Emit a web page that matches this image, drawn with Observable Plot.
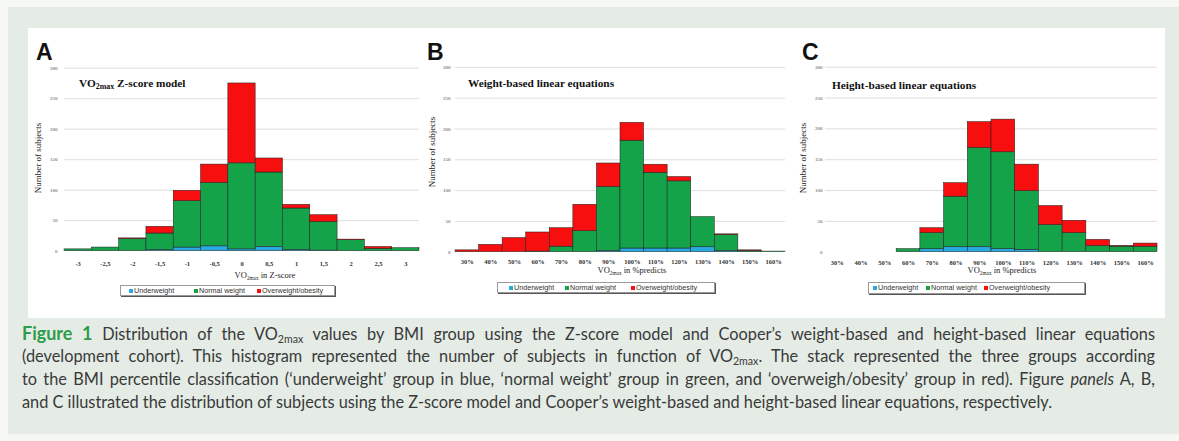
<!DOCTYPE html>
<html><head><meta charset="utf-8">
<script src="https://cdn.jsdelivr.net/npm/d3@7"></script>
<script src="https://cdn.jsdelivr.net/npm/@observablehq/plot@0.6"></script>
<style>
html,body{margin:0;padding:0;background:#f4f7f4;}
#root{position:relative;width:1179px;height:441px;overflow:hidden;}
#green{position:absolute;left:8px;top:7px;width:1171px;height:427px;background:#e4ece5;}
#card{position:absolute;left:28px;top:28px;width:1137px;height:290px;background:#fff;}
.abs{position:absolute;}
.letter{font-family:"Liberation Sans",Arial,sans-serif;font-weight:bold;font-size:23px;line-height:23px;color:#111;}
.ptitle{font-family:"Liberation Serif",serif;font-weight:bold;font-size:11.3px;line-height:13px;white-space:nowrap;color:#111;}
.ptitle sub{font-size:0.7em;}
.ytitle{font-family:"Liberation Serif",serif;font-size:9px;line-height:10px;white-space:nowrap;transform:translate(-50%,-50%) rotate(-90deg);color:#222;}
.xtitle{font-family:"Liberation Serif",serif;font-size:8.5px;line-height:10px;white-space:nowrap;transform:translate(-50%,-50%);color:#222;}
sub{font-size:0.62em;vertical-align:-0.3em;line-height:0;}
.legend{position:absolute;border:1px solid #9a9a9a;box-shadow:1px 1px 0 #555;background:#fff;font-family:"Liberation Sans",Arial,sans-serif;font-size:7.2px;color:#333;box-sizing:border-box;}
.legend span{position:absolute;top:50%;transform:translateY(-50%);white-space:nowrap;line-height:8px;}
.legend i{position:absolute;top:50%;width:4px;height:4px;transform:translateY(-50%);}
#caption{position:absolute;left:22px;top:321px;font-family:Lato,"Open Sans","Liberation Sans",sans-serif;font-size:17.5px;color:#3a3a3a;transform-origin:0 0;}
#caption .ln{height:23px;line-height:23px;text-align:justify;text-align-last:justify;}
#caption .ln.last{text-align:left;text-align-last:left;}
#caption b{color:#2e9c4a;font-size:1.1em;}
#caption sub{font-size:0.65em;vertical-align:-0.25em;}
</style></head>
<body>
<div id="root">
  <div id="green"></div>
  <div id="card"></div>
</div>
<script>
// ---------- data ----------
const groups = ["Underweight", "Normal weight", "Overweight/obesity"];
const groupColors = ["#29a9e1", "#15a34a", "#f70f0f"];

const catsA = ["-3", "-2,5", "-2", "-1,5", "-1", "-0,5", "0", "0,5", "1", "1,5", "2", "2,5", "3"];
const underA  = [0, 0, 0, 2, 6, 8, 3, 7, 2, 1, 0, 0, 0];
const normalA = [3, 6, 20, 27, 76, 104, 141, 122, 68, 47, 18, 4, 5];
const overA   = [0, 0, 1, 11, 17, 30, 131, 23, 6, 11, 1, 3, 0];

const catsPct = ["30%", "40%", "50%", "60%", "70%", "80%", "90%", "100%", "110%", "120%", "130%", "140%", "150%", "160%"];
const underB  = [0, 0, 0, 0, 0, 0, 2, 6, 6, 6, 8, 2, 0, 0];
const normalB = [0, 0, 0, 1, 9, 34, 104, 175, 123, 109, 49, 26, 2, 1];
const overB   = [3, 12, 23, 31, 30, 43, 38, 29, 13, 7, 0, 1, 1, 0];

const underC  = [0, 0, 0, 0, 5, 8, 8, 5, 4, 0, 0, 0, 0, 0];
const normalC = [0, 0, 0, 5, 26, 82, 161, 157, 95, 44, 31, 10, 9, 9];
const overC   = [0, 0, 0, 0, 8, 22, 42, 53, 43, 31, 20, 10, 1, 5];

const yTicks = [0, 50, 100, 150, 200, 250, 300];

const root = document.getElementById("root");
function add(html, cls, left, top, extra) {
  const d = document.createElement("div");
  d.className = "abs " + cls;
  d.style.left = left + "px"; d.style.top = top + "px";
  if (extra) Object.assign(d.style, extra);
  d.innerHTML = html;
  root.appendChild(d);
  return d;
}

function panel(cats, under, normal, over, o) {
  const rows = [];
  cats.forEach((c, i) => {
    rows.push({cat: c, group: groups[0], n: under[i]});
    rows.push({cat: c, group: groups[1], n: normal[i]});
    rows.push({cat: c, group: groups[2], n: over[i]});
  });
  const data = rows.filter(d => d.n > 0);
  const svg = Plot.plot({
    width: o.W, height: o.H,
    marginLeft: o.ml, marginRight: o.mr, marginTop: o.mt, marginBottom: o.mb,
    style: {fontFamily: "Liberation Serif, serif", background: "transparent", overflow: "visible", color: "#333"},
    x: {type: "band", domain: cats, padding: 0, round: false, label: null},
    y: {domain: [0, 300], label: null},
    color: {domain: groups, range: groupColors},
    marks: [
      Plot.gridY(yTicks.slice(1), {stroke: "#d6d6d6", strokeOpacity: 1, strokeWidth: 0.8}),
      Plot.barY(data, {x: "cat", y: "n", fill: "group", stroke: "#1c1c1c", strokeWidth: 0.5}),
      Plot.axisY({ticks: yTicks, tickSize: 0, tickPadding: o.yp, fontSize: 5, fill: "#444"}),
      Plot.axisX({tickSize: 0, tickPadding: o.xp, fontSize: 6.5, fontWeight: "bold", fill: "#333"})
    ]
  });
  const holder = document.createElement("div");
  holder.className = "abs";
  holder.style.left = o.L + "px"; holder.style.top = o.T + "px";
  holder.appendChild(svg);
  root.appendChild(holder);
}

function legend(left, top, w, h, offs) {
  const d = document.createElement("div");
  d.className = "legend";
  Object.assign(d.style, {left: left + "px", top: top + "px", width: w + "px", height: h + "px"});
  groups.forEach((g, i) => {
    const sq = document.createElement("i");
    sq.style.left = offs[i] + "px"; sq.style.background = groupColors[i];
    d.appendChild(sq);
    const t = document.createElement("span");
    t.style.left = (offs[i] + 5) + "px"; t.textContent = g;
    d.appendChild(t);
  });
  root.appendChild(d);
}

// Panel A
panel(catsA, underA, normalA, overA, {L: 40, T: 55, W: 385, H: 220, ml: 24, mr: 6, mt: 12.7, mb: 24.3, yp: 7, xp: 10});
add("A", "letter", 36, 41);
add("VO<sub>2max</sub> Z-score model", "ptitle", 79, 77);
add("Number of subjects", "ytitle", 38, 158);
add("VO<sub>2max</sub> in Z-score", "xtitle", 265, 275);
legend(120, 285, 215, 11, [8, 73, 136]);

// Panel B
panel(catsPct, underB, normalB, overB, {L: 430, T: 55, W: 365, H: 220, ml: 25, mr: 10, mt: 11.9, mb: 23.3, yp: 5, xp: 7});
add("B", "letter", 427, 41);
add("Weight-based linear equations", "ptitle", 468, 77);
add("Number of subjects", "ytitle", 432, 152);
add("VO<sub>2max</sub> in %predicts", "xtitle", 632, 270);
legend(497, 282, 218, 11, [11, 67, 133]);

// Panel C
panel(catsPct, underC, normalC, overC, {L: 805, T: 55, W: 360, H: 220, ml: 20, mr: 8, mt: 11.7, mb: 23.3, yp: 3, xp: 8});
add("C", "letter", 802, 41);
add("Height-based linear equations", "ptitle", 832, 79);
add("Number of subjects", "ytitle", 803, 158);
add("VO<sub>2max</sub> in %predicts", "xtitle", 1002, 270);
legend(868, 282, 217, 12, [4, 57, 115]);

// Caption
const cap = document.createElement("div");
cap.id = "caption";
cap.innerHTML =
  '<div class="ln"><b>Figure 1</b> Distribution of the VO<sub>2max</sub> values by BMI group using the Z-score model and Cooper’s weight-based and height-based linear equations</div>' +
  '<div class="ln">(development cohort). This histogram represented the number of subjects in function of VO<sub>2max</sub>. The stack represented the three groups according</div>' +
  '<div class="ln">to the BMI percentile classification (‘underweight’ group in blue, ‘normal weight’ group in green, and ‘overweigh/obesity’ group in red). Figure <i>panels</i> A, B,</div>' +
  '<div class="ln last"><span id="lastspan">and C illustrated the distribution of subjects using the Z-score model and Cooper’s weight-based and height-based linear equations, respectively.</span></div>';
root.appendChild(cap);
const ls = document.getElementById("lastspan");
ls.style.whiteSpace = "nowrap";
cap.style.width = "3000px";
const w = ls.getBoundingClientRect().width;
const s = 1030 / w;
cap.style.width = (1133 / s) + "px";
cap.style.transform = "scaleX(" + s.toFixed(4) + ")";
</script>
</body></html>
